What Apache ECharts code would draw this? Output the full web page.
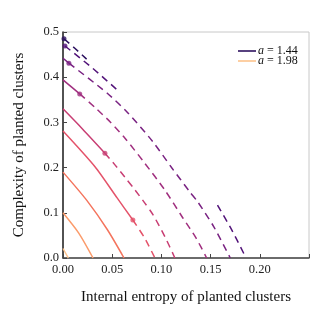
<!DOCTYPE html>
<html><head><meta charset="utf-8">
<script src="https://cdn.jsdelivr.net/npm/echarts@6/dist/echarts.min.js"></script>
<style>html,body{margin:0;padding:0;background:#fff;}#c{width:319px;height:319px;}</style>
</head><body><div id="c"></div>
<script>
// Data (x = internal entropy, y = complexity)
const xTicks = [0, 0.05, 0.10, 0.15, 0.20];
const yTicks = [0.0, 0.1, 0.2, 0.3, 0.4, 0.5];
const legendNames = ['a = 1.44', 'a = 1.98'];
const colors = ['#2c115f', '#521379', '#792282', '#a02f7f', '#c83e73', '#e4536a', '#f4745d', '#fb9b6b', '#fdc38c'];

// solid parts (before the dot), dashed parts (after the dot), dots
const solid1 = [];
const dashed1 = [[0.001,0.485],[0.012,0.464],[0.024,0.44]];
const dot1 = [0.001,0.485];

const solid2 = [];
const dashed2a = [[0.002,0.469],[0.03,0.42],[0.055,0.372]];
const dashed2b = [[0.157,0.117],[0.172,0.06],[0.186,0.0]];
const dot2 = [0.002,0.469];

const solid3 = [[0,0.442],[0.006,0.431]];
const dashed3 = [[0.006,0.431],[0.0447,0.365],[0.066,0.321],[0.0914,0.257],[0.1107,0.199],[0.129,0.146],[0.137,0.124],[0.153,0.07],[0.170,0.0]];
const dot3 = [0.006,0.431];

const solid4 = [[0,0.394],[0.017,0.363]];
const dashed4 = [[0.017,0.363],[0.033,0.332],[0.048,0.301],[0.063,0.265],[0.083,0.21],[0.1036,0.150],[0.122,0.088],[0.135,0.045],[0.146,0.0]];
const dot4 = [0.017,0.363];

const solid5 = [[0,0.33],[0.02,0.285],[0.0426,0.232]];
const dashed5 = [[0.0426,0.232],[0.0528,0.206],[0.065,0.173],[0.073,0.151],[0.083,0.122],[0.0914,0.096],[0.1036,0.047],[0.1137,0.0]];
const dot5 = [0.0426,0.232];

const solid6 = [[0,0.281],[0.0325,0.202],[0.055,0.133],[0.071,0.084]];
const dashed6 = [[0.071,0.084],[0.083,0.044],[0.0934,0.0]];
const dot6 = [0.071,0.084];

const solid7 = [[0,0.19],[0.024,0.128],[0.045,0.063],[0.062,0.0]];
const solid8 = [[0,0.1],[0.016,0.055],[0.0305,0.0]];
const solid9 = [[0,0.021],[0.0054,0.0]];

const curves = [
  {solid: solid1, dashed: [dashed1], dot: dot1},
  {solid: solid2, dashed: [dashed2a, dashed2b], dot: dot2},
  {solid: solid3, dashed: [dashed3], dot: dot3},
  {solid: solid4, dashed: [dashed4], dot: dot4},
  {solid: solid5, dashed: [dashed5], dot: dot5},
  {solid: solid6, dashed: [dashed6], dot: dot6},
  {solid: solid7, dashed: [], dot: null},
  {solid: solid8, dashed: [], dot: null},
  {solid: solid9, dashed: [], dot: null}
];

const series = [];
curves.forEach((c, i) => {
  const col = colors[i];
  const legName = i === 0 ? legendNames[0] : (i === 8 ? legendNames[1] : 'c' + i);
  if (c.solid.length) {
    series.push({type:'line', name: legName, data: c.solid, showSymbol:false, symbol:'none',
      smooth: 0.25, lineStyle:{color:col, width:1.5}, itemStyle:{color:col}, z:3});
  }
  c.dashed.forEach(d => {
    series.push({type:'line', name: legName, data: d, showSymbol:false, symbol:'none',
      smooth: 0.25, lineStyle:{color:col, width:1.5, type:[7,5]}, itemStyle:{color:col}, z:3});
  });
  if (c.dot) {
    series.push({type:'scatter', name: 'dot'+i, data:[c.dot], symbolSize:5, itemStyle:{color:col}, z:4});
  }
});

const chart = echarts.init(document.getElementById('c'));
const serif = 'Liberation Serif';
chart.setOption({
  animation:false,
  textStyle:{fontFamily: serif},
  grid:{left:63, right:10, top:32, bottom:61, show:true, borderColor:'#c8c8c8', borderWidth:1},
  legend:{
    data: legendNames.map((n, k) => ({name:n, icon:'rect', itemStyle:{color: k===0 ? colors[0] : colors[8]}})),
    orient:'vertical', left:233, top:40, itemWidth:18, itemHeight:1.6, itemGap:-2,
    textStyle:{fontFamily: serif, fontSize:12, color:'#111', padding:[0,0,0,-3], lineHeight:10,
      rich:{i:{fontStyle:'italic', fontFamily: serif, fontSize:12}}},
    formatter: n => '{i|a}' + n.slice(1)
  },
  xAxis:{type:'value', min:0, max:0.25, interval:0.05,
    name:'Internal entropy of planted clusters', nameLocation:'middle', nameGap:32,
    nameTextStyle:{fontFamily: serif, fontSize:15, color:'#111'},
    axisLine:{lineStyle:{color:'#444', width:1.5}},
    axisTick:{inside:true, length:4, lineStyle:{color:'#444'}},
    axisLabel:{fontFamily: serif, fontSize:12.5, color:'#222', margin:5,
      formatter: v => (xTicks.some(t => Math.abs(t - v) < 1e-9) ? v.toFixed(2) : '')},
    splitLine:{show:false}
  },
  yAxis:{type:'value', min:0, max:0.5, interval:0.1,
    name:'Complexity of planted clusters', nameLocation:'middle', nameGap:36,
    nameTextStyle:{fontFamily: serif, fontSize:15, color:'#111'},
    axisLine:{lineStyle:{color:'#222', width:1.5}},
    axisTick:{inside:true, length:4, lineStyle:{color:'#444'}},
    axisLabel:{fontFamily: serif, fontSize:12.5, color:'#222', margin:4,
      formatter: v => (yTicks.some(t => Math.abs(t - v) < 1e-9) ? v.toFixed(1) : '')},
    splitLine:{show:false}
  },
  series: series
});
</script>
</body></html>
